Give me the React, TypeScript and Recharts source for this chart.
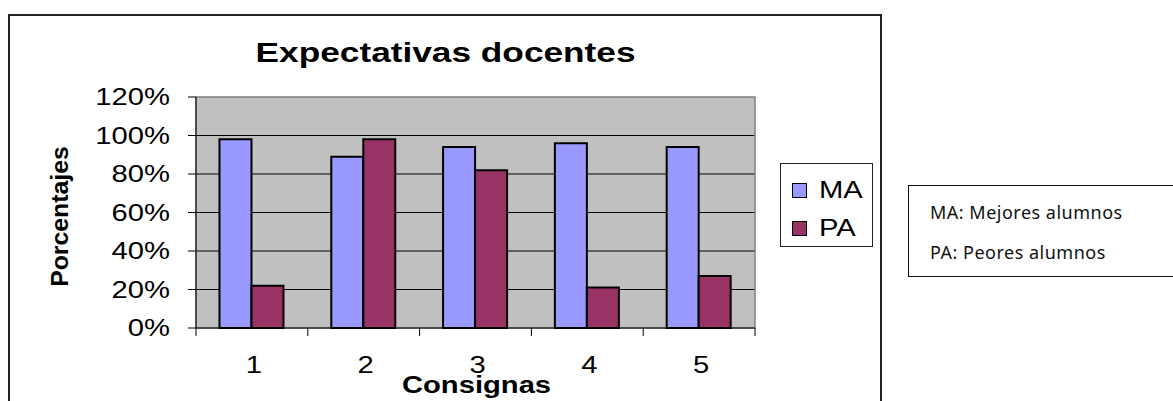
import { BarChart, Bar, XAxis, YAxis, CartesianGrid, Legend, ReferenceArea } from "recharts";

const consignas = ["1", "2", "3", "4", "5"];
const maValues = [98, 89, 94, 96, 94];
const paValues = [22, 98, 82, 21, 27];
const yTicks = [0, 20, 40, 60, 80, 100, 120];
const gridLines = [20, 40, 60, 80, 100];
const notes = ["MA: Mejores alumnos", "PA: Peores alumnos"];

const data = consignas.map((c, i) => ({ consigna: c, MA: maValues[i], PA: paValues[i] }));

const font = "Arial, 'Liberation Sans', sans-serif";
const stretch = 1.27; // the original render is wider than it is tall
const TICK_LEN = 8;
const TICK_GAP = 21;

function YTick(props: any) {
  const { x, y, payload } = props;
  return (
    <text
      transform={`translate(${x},${y}) scale(${stretch},1)`}
      textAnchor="end"
      dy="0.36em"
      fontFamily={font}
      fontSize={23}
      fill="#000"
    >
      {payload.value + "%"}
    </text>
  );
}

// category label + tick marks on the category borders (Excel style)
function XTick(props: any) {
  const { x, y, payload, width, visibleTicksCount, index } = props;
  const band = width / visibleTicksCount;
  const top = y - TICK_LEN - TICK_GAP;
  const left = x - band / 2;
  const right = x + band / 2;
  return (
    <g>
      <line x1={left} x2={left} y1={top} y2={top + TICK_LEN} stroke="#000" />
      {index === visibleTicksCount - 1 && (
        <line x1={right} x2={right} y1={top} y2={top + TICK_LEN} stroke="#000" />
      )}
      <text
        transform={`translate(${x + 2},${y}) scale(${stretch},1)`}
        textAnchor="middle"
        dy="0.71em"
        fontFamily={font}
        fontSize={23}
        fill="#000"
      >
        {payload.value}
      </text>
    </g>
  );
}

function LegendBox(props: any) {
  const items = props.payload || [];
  return (
    <div
      style={{
        width: 93,
        height: 84,
        boxSizing: "border-box",
        border: "1px solid #222",
        background: "#fff",
        paddingTop: 7,
        fontFamily: font,
      }}
    >
      {items.map((it: any) => (
        <div key={it.value} style={{ display: "flex", alignItems: "center", height: 38, paddingLeft: 11 }}>
          <span
            style={{
              width: 13,
              height: 13,
              background: it.color,
              border: "1.5px solid #000",
              marginRight: 12,
            }}
          />
          <span
            style={{
              fontSize: 23,
              lineHeight: "23px",
              display: "inline-block",
              transform: `scaleX(${stretch})`,
              transformOrigin: "left center",
            }}
          >
            {it.value}
          </span>
        </div>
      ))}
    </div>
  );
}

export default function App() {
  return (
    <div style={{ position: "absolute", left: 0, top: 0, width: 1173, height: 401, background: "#fff", overflow: "hidden" }}>
      {/* chart frame */}
      <div
        style={{
          position: "absolute",
          left: 8,
          top: 14,
          width: 874,
          height: 400,
          border: "2px solid #222",
          boxSizing: "border-box",
        }}
      />
      <div
        style={{
          position: "absolute",
          left: 0,
          width: 892,
          top: 40,
          textAlign: "center",
          fontFamily: font,
          fontWeight: "bold",
          fontSize: 27,
          lineHeight: "27px",
        }}
      >
        <span style={{ display: "inline-block", transform: "scaleX(1.305)" }}>Expectativas docentes</span>
      </div>

      <div style={{ position: "absolute", left: 0, top: 0 }}>
        <BarChart
          width={882}
          height={401}
          data={data}
          margin={{ top: 97, right: 127, bottom: 0, left: 0 }}
          barCategoryGap="21%"
          barGap={0}
        >
          <CartesianGrid
            vertical={false}
            horizontalValues={gridLines}
            stroke="#000"
            strokeWidth={1}
            fill="#c0c0c0"
            fillOpacity={1}
          />
          <ReferenceArea y1={0} y2={120} fill="none" stroke="#808080" strokeWidth={1.5} />
          <XAxis
            dataKey="consigna"
            stroke="#000"
            tickLine={false}
            tickSize={TICK_LEN}
            tickMargin={TICK_GAP}
            height={73}
            tick={<XTick />}
            label={{
              content: (p: any) => (
                <text
                  transform={`translate(${p.viewBox.x + p.viewBox.width / 2 + 1},${p.viewBox.y + 65}) scale(${stretch},1)`}
                  textAnchor="middle"
                  fontFamily={font}
                  fontWeight="bold"
                  fontSize={23}
                  fill="#000"
                >
                  Consignas
                </text>
              ),
            }}
          />
          <YAxis
            domain={[0, 120]}
            ticks={yTicks}
            width={196}
            tickSize={8}
            tickMargin={18}
            stroke="#000"
            tick={<YTick />}
            label={{
              content: (p: any) => (
                <text
                  transform={`translate(${p.viewBox.x + 68},${p.viewBox.y + p.viewBox.height / 2 + 4}) rotate(-90) scale(1.08,1)`}
                  textAnchor="middle"
                  fontFamily={font}
                  fontWeight="bold"
                  fontSize={23}
                  fill="#000"
                >
                  Porcentajes
                </text>
              ),
            }}
          />
          <Legend
            layout="vertical"
            align="center"
            verticalAlign="middle"
            content={LegendBox}
            wrapperStyle={{ position: "absolute", left: 780, top: 163, width: 93, height: 84 }}
          />
          <Bar dataKey="MA" name="MA" fill="#9999ff" stroke="#000" strokeWidth={2} isAnimationActive={false} />
          <Bar dataKey="PA" name="PA" fill="#993366" stroke="#000" strokeWidth={2} isAnimationActive={false} />
        </BarChart>
      </div>

      {/* notes box */}
      <div
        style={{
          position: "absolute",
          left: 908,
          top: 185,
          width: 280,
          height: 92,
          border: "1.5px solid #111",
          boxSizing: "border-box",
          fontFamily: "'Noto Sans', Lato, sans-serif",
          fontSize: 18,
          letterSpacing: 0.5,
          color: "#111",
          paddingLeft: 21,
          paddingTop: 11,
        }}
      >
        {notes.map((n) => (
          <div key={n} style={{ height: 40, lineHeight: "30px" }}>
            {n}
          </div>
        ))}
      </div>
    </div>
  );
}
